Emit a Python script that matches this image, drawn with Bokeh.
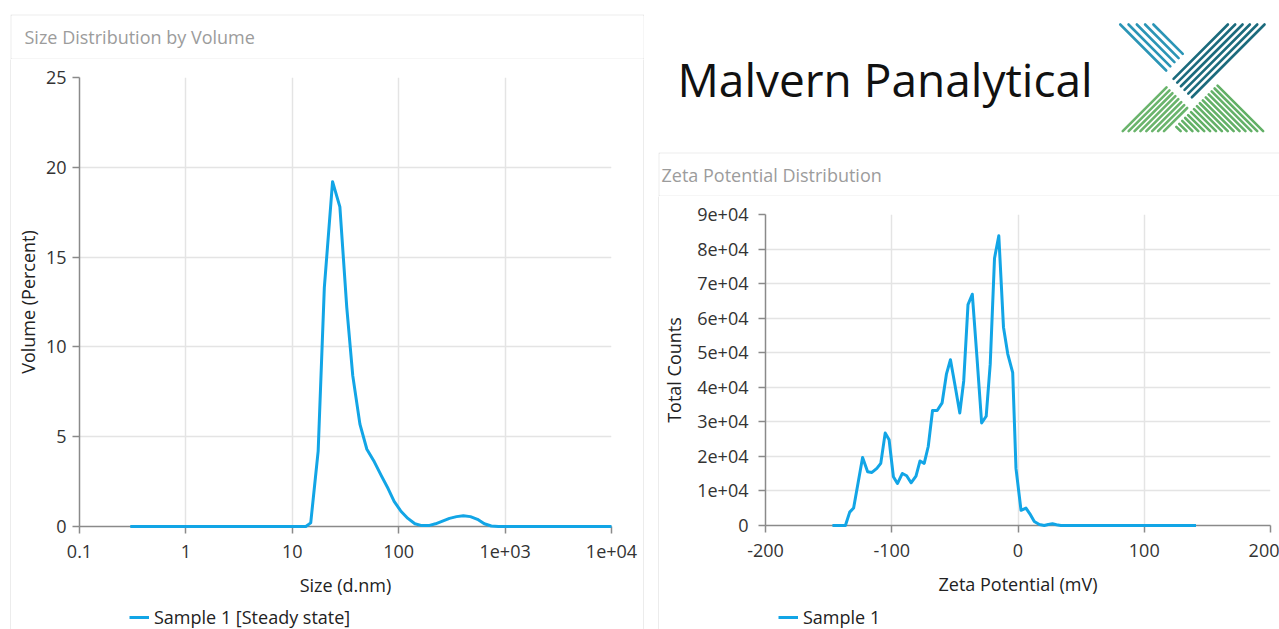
from bokeh.plotting import figure
from bokeh.models import Range1d, FixedTicker, Legend, LegendItem, Label, Spacer
from bokeh.layouts import row, column
from bokeh.embed import file_html
from bokeh.resources import INLINE

# ---------------- data ----------------
size_nm = [0.3, 13.4, 14.9, 17.5, 20.0, 23.9, 28.0, 32.5, 37.0, 43.2, 50.2, 59.0,
           68.4, 79.7, 90.6, 105, 122, 142, 165, 191, 222, 258, 300, 350, 405,
           472, 550, 638, 742, 865, 10000]
volume_pct = [0, 0, 0.2, 4.2, 13.3, 19.2, 17.8, 12.2, 8.4, 5.7, 4.3, 3.6,
              2.85, 2.1, 1.4, 0.85, 0.45, 0.15, 0.05, 0.05, 0.15, 0.3, 0.45, 0.55, 0.6,
              0.55, 0.4, 0.15, 0.03, 0, 0]
size_ticks = [0.1, 1, 10, 100, 1000, 10000]
size_tick_labels = ["0.1", "1", "10", "100", "1e+03", "1e+04"]
volume_ticks = [0, 5, 10, 15, 20, 25]

zeta_mv = [-147, -136.7, -133.3, -130.2, -123.1, -119.1, -115.7, -111.8, -108.7,
           -105.2, -102.1, -98.7, -95.5, -91.6, -88.2, -84.7, -80.8, -77.6, -74.3,
           -71.1, -67.7, -64.0, -60.1, -56.7, -53.5, -49.8, -46.1, -43.0, -39.6,
           -36.2, -32.5, -28.8, -25.2, -22.0, -18.6, -15.2, -11.5, -8.1, -4.2, -1.6,
           2.4, 6.3, 9.4, 12.9, 16.9, 20.8, 24.0, 27.3, 30.5, 34.0, 141]
total_counts = [0, 0, 3880, 5050, 19650, 15560, 15350, 16520, 17980,
                26740, 24810, 14100, 12140, 15060, 14390, 12350, 14300, 18680, 17980,
                22860, 33270, 33270, 35500, 43780, 47960, 40370, 32580, 41830, 63930,
                66930, 48630, 29660, 31610, 46700, 77350, 83860, 57390, 49620, 44250, 16520,
                4380, 5050, 3390, 1170, 300, 0, 300, 500, 200, 0, 0]
zeta_ticks = [-200, -100, 0, 100, 200]
zeta_tick_labels = ["-200", "-100", "0", "100", "200"]
count_ticks = [0, 10000, 20000, 30000, 40000, 50000, 60000, 70000, 80000, 90000]
count_tick_labels = ["0", "1e+04", "2e+04", "3e+04", "4e+04", "5e+04",
                     "6e+04", "7e+04", "8e+04", "9e+04"]

# ---------------- styles ----------------
FONT = "Open Sans"
FS = "18px"
LINE = "#12a5e6"
GRID = "#e4e4e4"
AXIS = "#8a8a8a"
PANEL = "#d9d9d9"
TEXT = "#333333"
HEAD = "#9c9c9c"


def bare(width, height, xr, yr, border_color="white", bg="white", mb=(0, 0, 0, 0)):
    f = figure(width=width, height=height, toolbar_location=None, output_backend="svg",
               x_range=xr, y_range=yr,
               min_border_left=mb[0], min_border_right=mb[1],
               min_border_top=mb[2], min_border_bottom=mb[3],
               border_fill_color=border_color, background_fill_color=bg,
               outline_line_color=None, x_axis_location=None, y_axis_location=None)
    f.xgrid.visible = False
    f.ygrid.visible = False
    return f


def style_axes(p, ylab_standoff, ytick_standoff):
    for ax in (p.xaxis, p.yaxis):
        ax.axis_line_color = AXIS
        ax.axis_line_width = 1.5
        ax.major_tick_line_color = AXIS
        ax.major_tick_line_width = 1.5
        ax.major_tick_out = 7
        ax.major_tick_in = 0
        ax.minor_tick_line_color = None
        ax.major_label_text_font = FONT
        ax.major_label_text_font_size = FS
        ax.major_label_text_color = TEXT
        ax.axis_label_text_font = FONT
        ax.axis_label_text_font_size = FS
        ax.axis_label_text_font_style = "normal"
        ax.axis_label_text_color = "#222222"
    p.xaxis.major_label_standoff = 11
    p.xaxis.axis_label_standoff = 12
    p.yaxis.major_label_standoff = ytick_standoff
    p.yaxis.axis_label_standoff = ylab_standoff
    p.grid.grid_line_color = GRID
    p.grid.grid_line_width = 1.5
    p.xgrid.minor_grid_line_color = None


def header(width, height, text, tx, ty, borders):
    l, r, t, b = borders
    fw, fh = width - l - r, height - t - b
    h = bare(width, height, Range1d(0, fw), Range1d(fh, 0), border_color=PANEL,
             mb=(l, r, t, b))
    h.add_layout(Label(x=tx, y=ty, text=text, text_font=FONT, text_font_size=FS,
                       text_color=HEAD, text_baseline="middle", text_align="left"))
    return h


def vline(height):
    return bare(1, height, Range1d(0, 1), Range1d(0, 1), border_color=PANEL, bg=PANEL)


def legend_strip(width, height, label, left, right, x_off):
    # same side borders as the chart above it, so the column keeps both frames aligned
    f = bare(width, height, Range1d(0, 1), Range1d(0, 1), mb=(left, right, 0, 0))
    # a sample line kept below the visible range, only used for the legend swatch
    r = f.line([0, 1], [-1, -1], line_width=3, color=LINE)
    lg = Legend(items=[LegendItem(label=label, renderers=[r])], location=(x_off, 0),
                orientation="horizontal", padding=0, margin=0, spacing=0,
                border_line_color=None, background_fill_alpha=0,
                label_text_font=FONT, label_text_font_size=FS, label_text_color="#222222",
                glyph_width=20, glyph_height=18, label_standoff=5)
    f.add_layout(lg)
    return f


# ---------------- left chart ----------------
pL = figure(width=632, height=542, x_axis_type="log", x_range=Range1d(0.1, 10000),
            y_range=Range1d(0, 25), toolbar_location=None, output_backend="svg",
            min_border_left=68, min_border_right=32, min_border_top=18, min_border_bottom=75,
            outline_line_color=None, background_fill_color="white", border_fill_color="white")
pL.xaxis.ticker = FixedTicker(ticks=size_ticks)
pL.xaxis.major_label_overrides = {t: s for t, s in zip(size_ticks, size_tick_labels)}
pL.yaxis.ticker = FixedTicker(ticks=volume_ticks)
pL.xaxis.axis_label = "Size (d.nm)"
pL.yaxis.axis_label = "Volume (Percent)"
style_axes(pL, 3, 6)
pL.line(size_nm, volume_pct, line_width=3, color=LINE, line_join="round", level="overlay")
legL = legend_strip(632, 28, "Sample 1 [Steady state]", 68, 32, 50)

# ---------------- right chart ----------------
pR = figure(width=620, height=405, x_range=Range1d(-200, 200), y_range=Range1d(0, 90000),
            toolbar_location=None, output_backend="svg",
            min_border_left=103, min_border_right=9, min_border_top=18, min_border_bottom=76,
            outline_line_color=None, background_fill_color="white", border_fill_color="white")
pR.xaxis.ticker = FixedTicker(ticks=zeta_ticks)
pR.xaxis.major_label_overrides = {t: s for t, s in zip(zeta_ticks, zeta_tick_labels)}
pR.yaxis.ticker = FixedTicker(ticks=count_ticks)
pR.yaxis.major_label_overrides = {t: s for t, s in zip(count_ticks, count_tick_labels)}
pR.xaxis.axis_label = "Zeta Potential (mV)"
pR.yaxis.axis_label = "Total Counts"
style_axes(pR, 8, 10)
pR.line(zeta_mv, total_counts, line_width=3, color=LINE, line_join="round", level="overlay")
legR = legend_strip(620, 28, "Sample 1", 103, 9, 13)

# ---------------- brand ----------------
brand = bare(621, 152, Range1d(658, 1279), Range1d(152, 0))
brand.add_layout(Label(x=676, y=78, text="Malvern Panalytical", text_font=FONT,
                       text_font_size="46px", text_color="#111111",
                       text_baseline="middle", text_align="left"))

# logo stripes (decorative)
blue_tops = [1119.5, 1127.8, 1136.1, 1144.4, 1152.7]
dark_tops = [1227.3, 1234.6, 1242.0, 1249.3, 1256.7, 1264.0]
green_left_bottoms = [1122 + 5.9 * i for i in range(8)]
green_right_bottoms = [1180 + 5.9 * i for i in range(15)]
segs = {"#2b95b6": ([], [], [], []), "#1c6b7d": ([], [], [], []),
        "#6ab46c": ([], [], [], []), "#63b067": ([], [], [], [])}
for x0 in blue_tops:
    t = (1211.5 - x0) / 2
    s = segs["#2b95b6"]; s[0].append(x0); s[1].append(24); s[2].append(x0 + t); s[3].append(24 + t)
for x0 in dark_tops:
    t = (x0 - 1118.5) / 2
    s = segs["#1c6b7d"]; s[0].append(x0); s[1].append(24); s[2].append(x0 - t); s[3].append(24 + t)
for b in green_left_bottoms:
    t = (1209.7 - b) / 2
    s = segs["#6ab46c"]; s[0].append(b); s[1].append(130.7); s[2].append(b + t); s[3].append(130.7 - t)
for b in green_right_bottoms:
    t = (b - 1171.3) / 2
    s = segs["#63b067"]; s[0].append(b); s[1].append(130.7); s[2].append(b - t); s[3].append(130.7 - t)
for col, (a, b_, c, d) in segs.items():
    brand.segment(a, b_, c, d, line_color=col, line_width=2.6, line_cap="round")

# ---------------- layout ----------------
hL = header(634, 45, "Size Distribution by Volume", 13, 21, (1, 1, 1, 1))
hR = header(621, 44, "Zeta Potential Distribution", 2, 21, (1, 0, 1, 1))

left = column(Spacer(width=634, height=14), hL,
              row(vline(570), column(pL, legL), vline(570)))
right = column(brand, hR, row(vline(433), column(pR, legR)))
page = row(Spacer(width=10, height=629), left, Spacer(width=14, height=629), right)

open("out.html", "w").write(file_html(page, INLINE))
